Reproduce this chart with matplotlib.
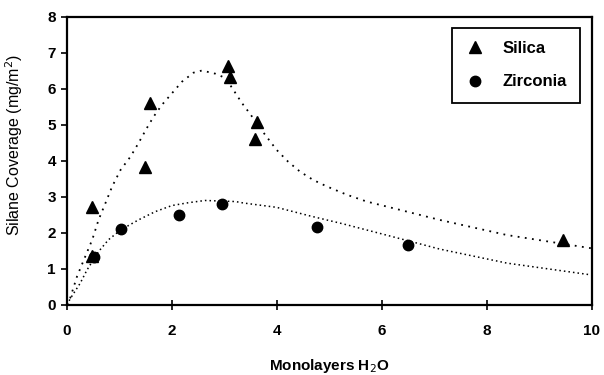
import matplotlib
matplotlib.use("Agg")
import matplotlib.pyplot as plt

# Data points
silica_x = [0.47, 0.47, 1.49, 1.58, 3.06, 3.10, 3.61, 3.59, 9.45]
silica_y = [2.71, 1.36, 3.82, 5.60, 6.64, 6.34, 5.08, 4.60, 1.79]
zirconia_x = [0.52, 1.02, 2.14, 2.96, 4.77, 6.50]
zirconia_y = [1.34, 2.12, 2.49, 2.81, 2.15, 1.67]

# Fitted (dotted) curves
silica_fit_x = [0.0, 0.06, 0.19, 0.32, 0.48, 0.60, 0.73, 0.86, 1.02, 1.21, 1.36, 1.52,
                1.65, 1.81, 2.00, 2.19, 2.41, 2.57, 2.83, 3.02, 3.17, 3.33, 3.49, 3.74,
                3.99, 4.21, 4.44, 4.69, 4.95, 5.33, 5.71, 6.34, 7.10, 8.38, 10.0]
silica_fit_y = [0.0, 0.19, 0.79, 1.25, 1.81, 2.36, 2.82, 3.29, 3.75, 4.12, 4.49, 4.91,
                5.23, 5.56, 5.88, 6.20, 6.45, 6.51, 6.42, 6.30, 5.97, 5.61, 5.30, 4.79,
                4.31, 3.98, 3.70, 3.47, 3.29, 3.06, 2.87, 2.64, 2.36, 1.94, 1.57]
zirconia_fit_x = [0.0, 0.06, 0.25, 0.38, 0.60, 0.79, 1.02, 1.36, 1.68, 2.00, 2.32, 2.63,
                  3.21, 3.36, 3.99, 4.63, 5.26, 6.08, 6.50, 7.10, 8.38, 10.0]
zirconia_fit_y = [0.0, 0.17, 0.60, 0.97, 1.48, 1.81, 2.08, 2.36, 2.59, 2.76, 2.84, 2.90,
                  2.87, 2.83, 2.71, 2.47, 2.25, 1.94, 1.78, 1.55, 1.16, 0.83]

x_ticks = [0, 2, 4, 6, 8, 10]
y_ticks = [0, 1, 2, 3, 4, 5, 6, 7, 8]

plt.rcParams['font.family'] = ['Liberation Sans', 'DejaVu Sans']

fig = plt.figure(figsize=(6.04, 3.75), dpi=100)
ax = fig.add_axes([0.111, 0.187, 0.869, 0.768])

ax.plot(silica_fit_x, silica_fit_y, color='black', lw=1.3, linestyle=(0, (1, 3)))
ax.plot(zirconia_fit_x, zirconia_fit_y, color='black', lw=1.1, linestyle=(0, (1, 2)))
ax.plot(silica_x, silica_y, linestyle='none', marker='^', color='black', markersize=8,
        label='Silica')
ax.plot(zirconia_x, zirconia_y, linestyle='none', marker='o', color='black', markersize=7.5,
        label='Zirconia')

ax.set_xlim(0, 10)
ax.set_ylim(0, 8)
ax.set_xticks(x_ticks)
ax.set_yticks(y_ticks)
ax.tick_params(axis='x', direction='inout', length=7, width=1.2, pad=10, labelsize=11)
ax.tick_params(axis='y', direction='out', length=4, width=1.2, pad=4, labelsize=11)
for lbl in ax.get_xticklabels() + ax.get_yticklabels():
    lbl.set_fontweight('bold')
for s in ax.spines.values():
    s.set_linewidth(1.6)
    s.set_color('black')

ax.set_xlabel('Monolayers H$_2$O', fontsize=11, fontweight='bold', labelpad=14)
ax.set_ylabel('Silane Coverage (mg/m$^2$)', fontsize=11.5)
ax.yaxis.set_label_coords(-0.080, 0.556)

leg = ax.legend(loc='upper right', bbox_to_anchor=(0.977, 0.962), borderaxespad=0,
                frameon=True, fancybox=False, edgecolor='black', framealpha=1,
                prop={'weight': 'bold', 'size': 12}, handletextpad=1.0,
                borderpad=0.8, labelspacing=1.1, handlelength=1.2)
leg.get_frame().set_linewidth(1.3)

fig.savefig('out.png', dpi=100)
